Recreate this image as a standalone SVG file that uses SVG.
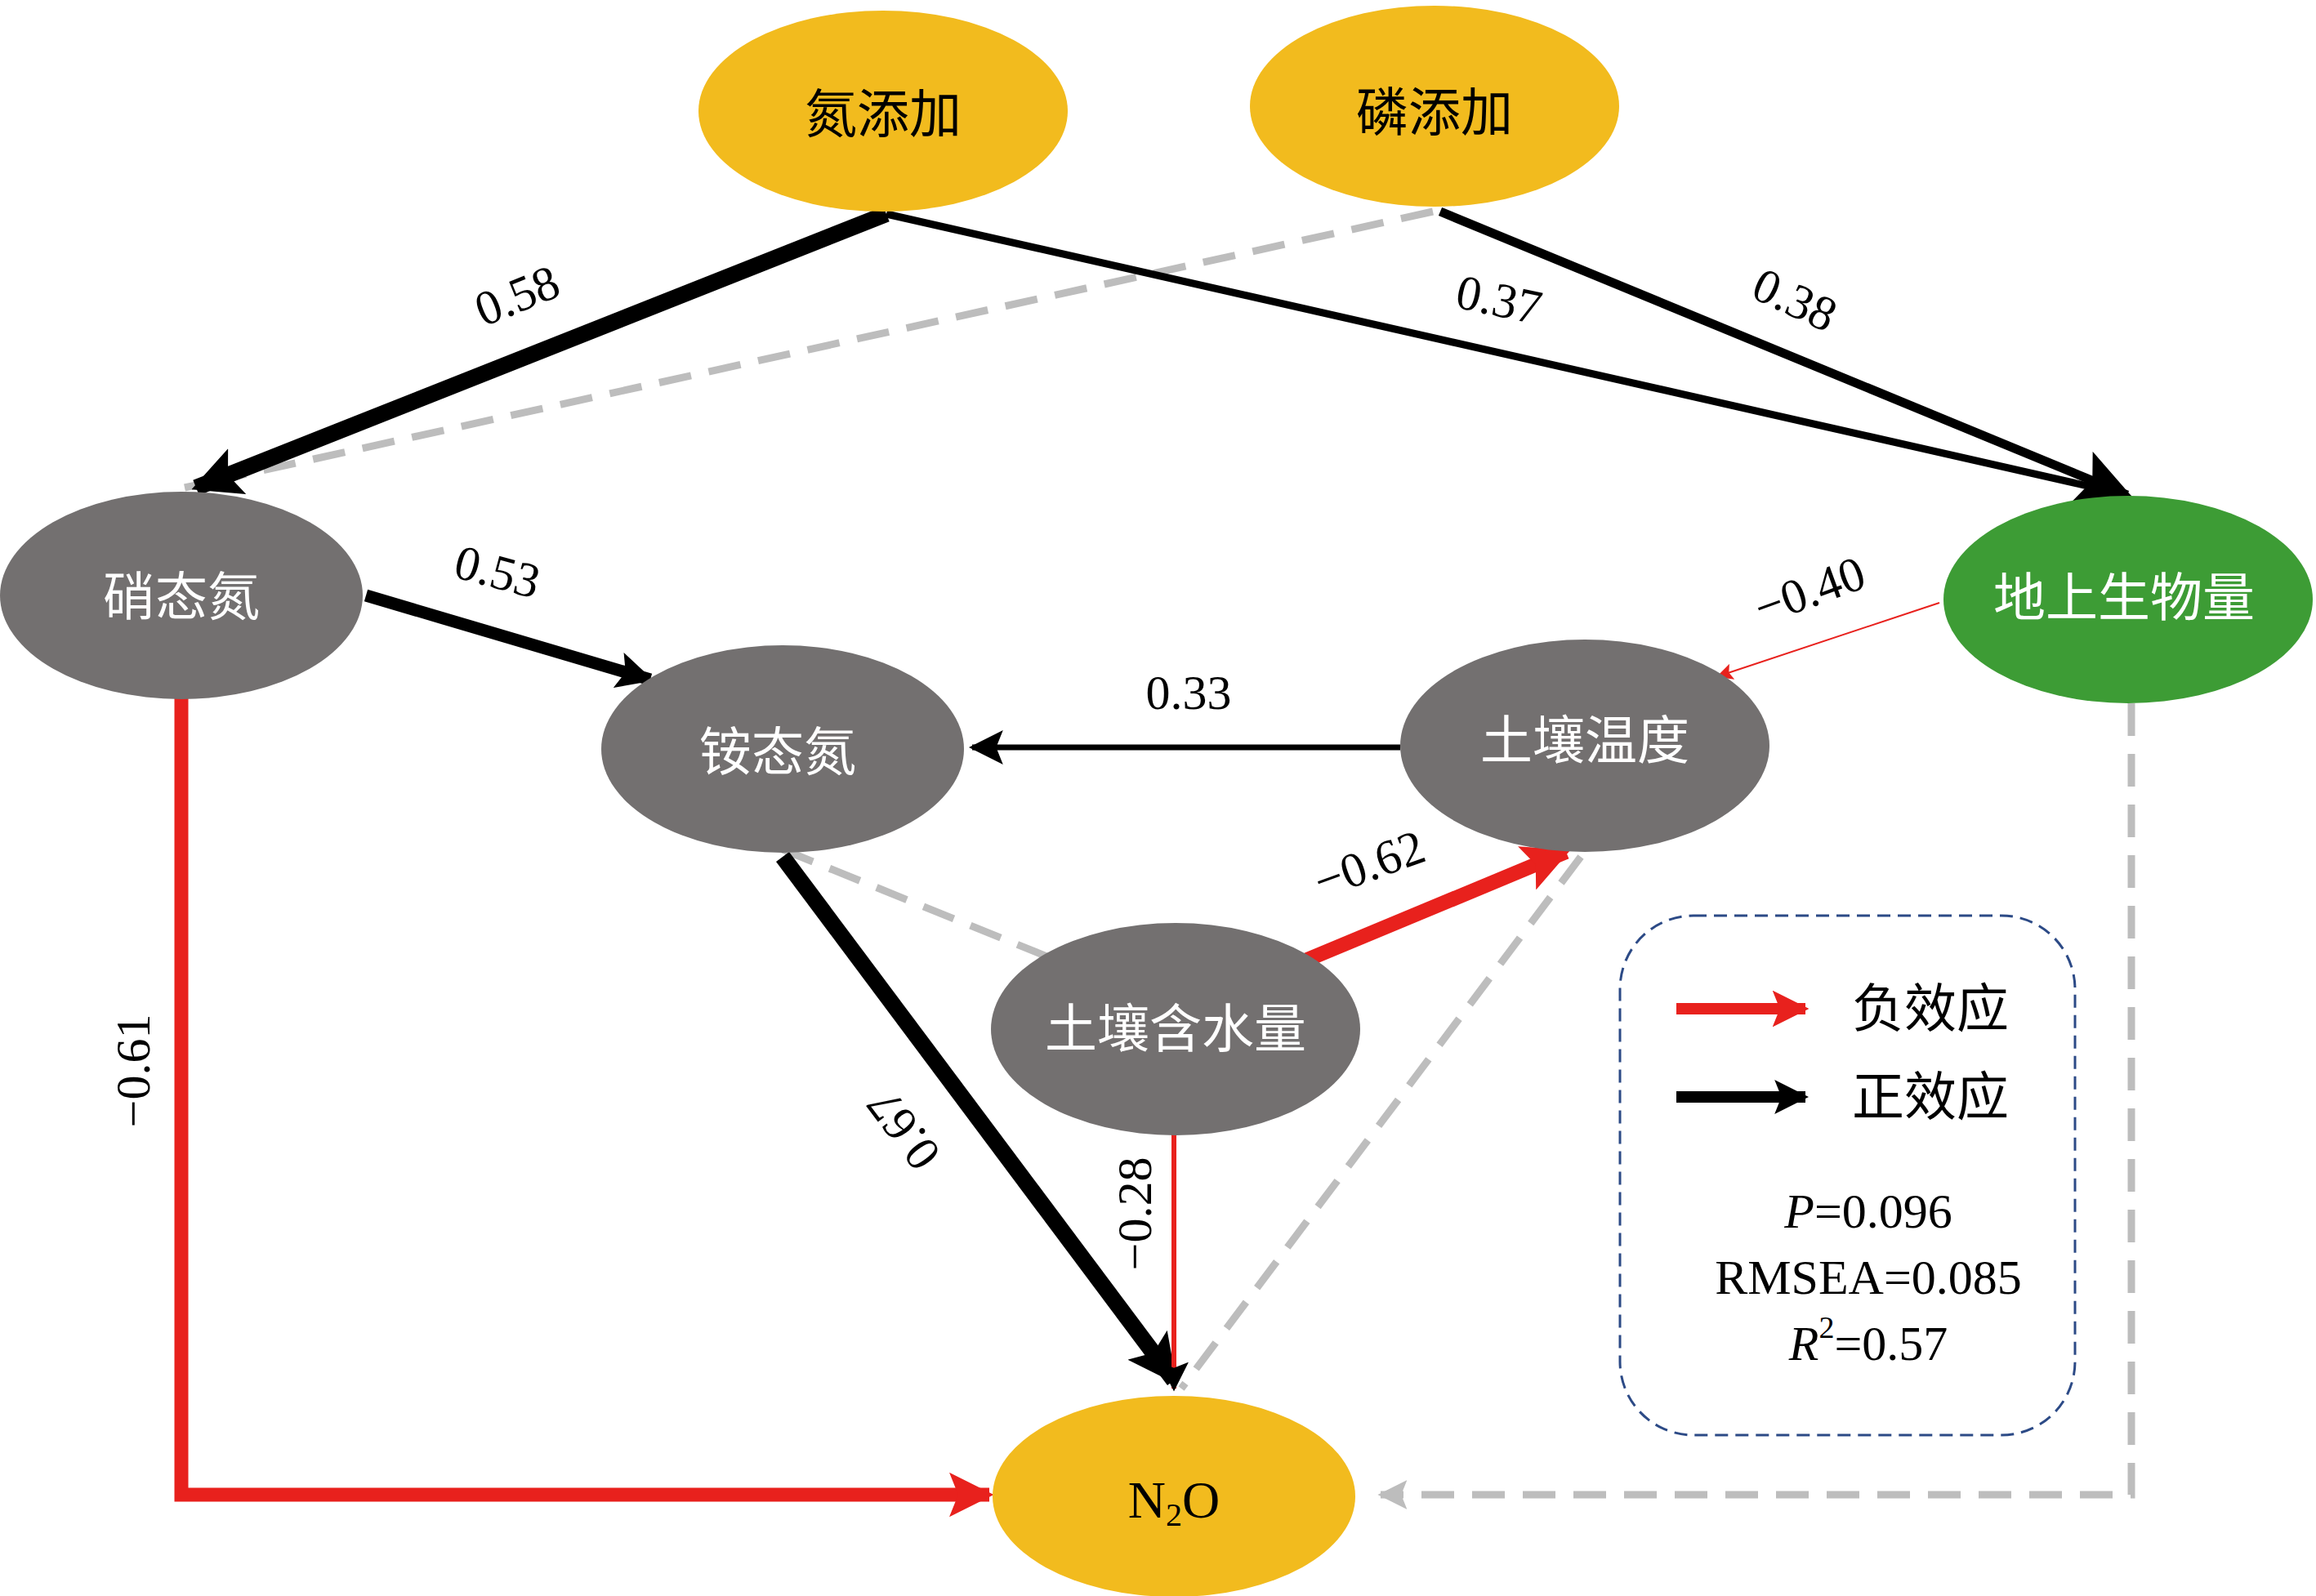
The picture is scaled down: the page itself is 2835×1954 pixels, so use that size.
<svg xmlns="http://www.w3.org/2000/svg" width="2835" height="1954" viewBox="0 0 2835 1954">
<defs>
<style>
.nt{font-family:"Liberation Serif","Noto Sans CJK SC",serif;font-size:64px;text-anchor:middle;dominant-baseline:central}
.lb{font-family:"Liberation Serif",serif;font-size:60px;text-anchor:middle;dominant-baseline:central;fill:#000}
.k{stroke:#000;fill:none}
.r{stroke:#e8211d;fill:none}
.g{stroke:#bdbdbd;fill:none;stroke-width:9;stroke-dasharray:40 22}
</style>
<marker id="ak" viewBox="0 0 10 10" refX="9" refY="5" markerWidth="3" markerHeight="3" orient="auto" markerUnits="strokeWidth"><path d="M0,0L10,5L0,10L2,5z" fill="#000"/></marker>
<marker id="akt" viewBox="0 0 10 10" refX="9" refY="5" markerWidth="6" markerHeight="6" orient="auto" markerUnits="strokeWidth"><path d="M0,0L10,5L0,10L2,5z" fill="#000"/></marker>
<marker id="ar" viewBox="0 0 10 10" refX="9" refY="5" markerWidth="3.2" markerHeight="3.2" orient="auto" markerUnits="strokeWidth"><path d="M0,0L10,5L0,10L2,5z" fill="#e8211d"/></marker>
<marker id="art" viewBox="0 0 10 10" refX="9" refY="5" markerWidth="10" markerHeight="10" orient="auto" markerUnits="strokeWidth"><path d="M0,0L10,5L0,10L2,5z" fill="#e8211d"/></marker>
<marker id="ag" viewBox="0 0 10 10" refX="9" refY="5" markerWidth="4" markerHeight="4" orient="auto" markerUnits="strokeWidth"><path d="M0,0L10,5L0,10L2,5z" fill="#bdbdbd"/></marker>
</defs>
<rect width="2835" height="1954" fill="#fff"/>
<g id="connectors">
<line class="g" x1="1754" y1="259" x2="226" y2="597"/>
<line class="g" x1="958" y1="1040" x2="1284" y2="1172"/>
<line class="g" x1="1935" y1="1049" x2="1446" y2="1700"/>
<polyline class="g" points="2609,861 2609,1830 1690,1830" marker-end="url(#ag)"/>
<line class="k" stroke-width="20" x1="1085" y1="262" x2="240" y2="597" marker-end="url(#ak)"/>
<line class="k" stroke-width="9" x1="1085" y1="262" x2="2604" y2="606" marker-end="url(#akt)"/>
<line class="k" stroke-width="11" x1="1763" y1="259" x2="2604" y2="606" marker-end="url(#akt)"/>
<line class="k" stroke-width="15" x1="448" y1="729" x2="796" y2="832" marker-end="url(#ak)"/>
<line class="k" stroke-width="7" x1="1714" y1="915" x2="1190" y2="915" marker-end="url(#akt)"/>
<line class="r" stroke-width="2" x1="2374" y1="738" x2="2103" y2="828" marker-end="url(#art)"/>
<line class="r" stroke-width="18" x1="1600" y1="1175" x2="1917" y2="1043" marker-end="url(#ar)"/>
<line class="k" stroke-width="20" x1="958" y1="1049" x2="1437" y2="1690" marker-end="url(#ak)"/>
<line class="r" stroke-width="6" x1="1437" y1="1389" x2="1437" y2="1700" marker-end="url(#akt)"/>
<polyline class="r" stroke-width="17" points="222,855 222,1830 1211,1830" marker-end="url(#ar)"/>
</g>
<g id="n_N"><ellipse cx="1081" cy="136" rx="226" ry="123" fill="#f2bb1e"/><text class="nt" x="1081" y="140">氮添加</text></g>
<g id="n_P"><ellipse cx="1756" cy="130" rx="226" ry="123" fill="#f2bb1e"/><text class="nt" x="1756" y="138">磷添加</text></g>
<g id="n_NO3"><ellipse cx="222" cy="729" rx="222" ry="127" fill="#737070"/><text class="nt" x="222" y="731" fill="#fff">硝态氮</text></g>
<g id="n_AGB"><ellipse cx="2605" cy="734" rx="226" ry="127" fill="#3d9c35"/><text class="nt" x="2600" y="732" fill="#fff">地上生物量</text></g>
<g id="n_NH4"><ellipse cx="958" cy="917" rx="222" ry="127" fill="#737070"/><text class="nt" x="952" y="921" fill="#fff">铵态氮</text></g>
<g id="n_T"><ellipse cx="1940" cy="913" rx="226" ry="130" fill="#737070"/><text class="nt" x="1940" y="907" fill="#fff">土壤温度</text></g>
<g id="n_W"><ellipse cx="1439" cy="1260" rx="226" ry="130" fill="#737070"/><text class="nt" x="1439" y="1260" fill="#fff">土壤含水量</text></g>
<g id="n_N2O"><ellipse cx="1437" cy="1832" rx="222" ry="123" fill="#f2bb1e"/><text class="nt" x="1437" y="1836">N<tspan font-size="40" dy="18">2</tspan><tspan dy="-18">O</tspan></text></g>
<g id="labels">
<text class="lb" transform="translate(633,362) rotate(-22)">0.58</text>
<text class="lb" transform="translate(1835,367) rotate(12)">0.37</text>
<text class="lb" transform="translate(2197,367) rotate(25)">0.38</text>
<text class="lb" transform="translate(609,700) rotate(15)">0.53</text>
<text class="lb" x="1455" y="848">0.33</text>
<text class="lb" transform="translate(2215,723) rotate(-20)">−0.40</text>
<text class="lb" transform="translate(1676,1058) rotate(-20)">−0.62</text>
<text class="lb" transform="translate(163,1311) rotate(-90)">−0.61</text>
<text class="lb" transform="translate(1106,1383) rotate(233)">0.67</text>
<text class="lb" transform="translate(1389,1486) rotate(-90)">−0.28</text>
</g>
<g id="legend">
<rect x="1983" y="1121" width="557" height="636" rx="90" fill="none" stroke="#2c4a86" stroke-width="3" stroke-dasharray="16 9"/>
<line class="r" stroke-width="14" x1="2052" y1="1235" x2="2210" y2="1235" marker-end="url(#ar)"/>
<line class="k" stroke-width="14" x1="2052" y1="1343" x2="2210" y2="1343" marker-end="url(#ak)"/>
<text class="nt" x="2363" y="1235">负效应</text>
<text class="nt" x="2363" y="1343">正效应</text>
<text class="lb" x="2287" y="1483"><tspan font-style="italic">P</tspan>=0.096</text>
<text class="lb" x="2287" y="1564">RMSEA=0.085</text>
<text class="lb" x="2287" y="1645"><tspan font-style="italic">R</tspan><tspan font-size="38" dy="-20">2</tspan><tspan dy="20">=0.57</tspan></text>
</g>
</svg>
